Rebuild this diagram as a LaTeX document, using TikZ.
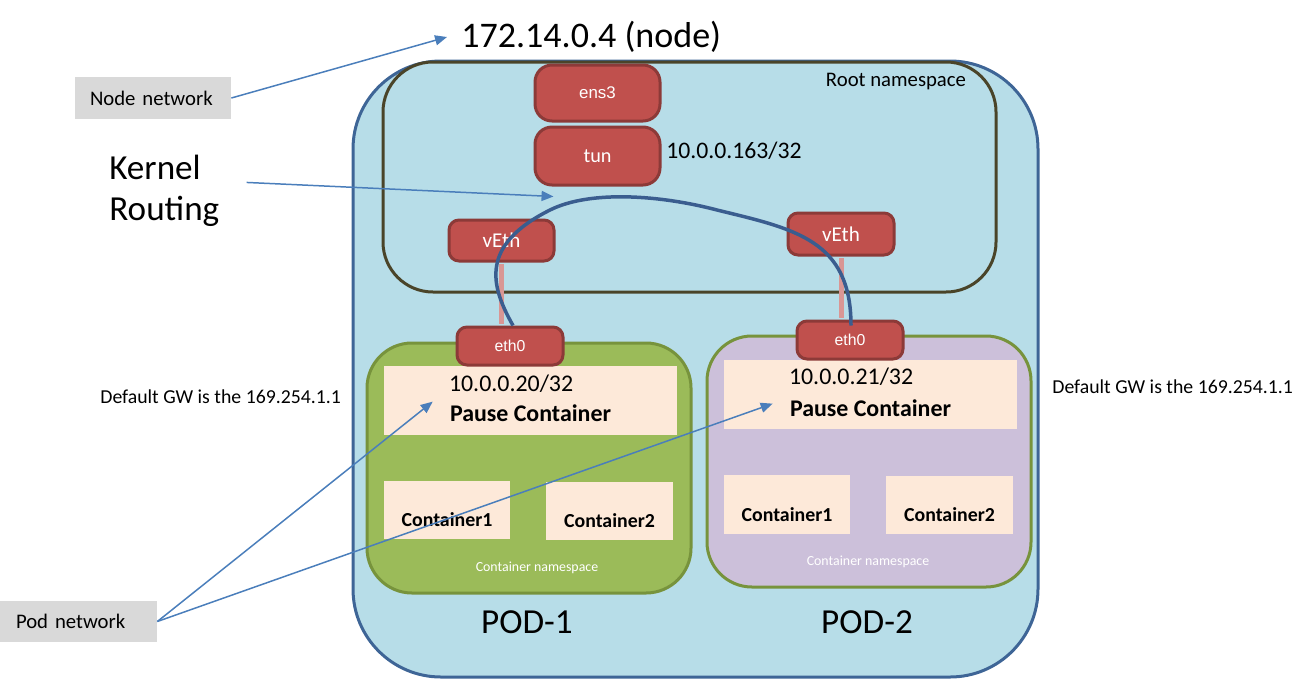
\documentclass[tikz,border=0pt]{standalone}
\usepackage{fontspec}
\setmainfont{Carlito}
\newfontfamily\ifacefont{Liberation Sans}
\usetikzlibrary{positioning,arrows.meta}
\newlength{\px}
\setlength{\px}{0.02cm}
\newcommand*{\fsz}[2]{\fontsize{#1}{#2}\selectfont}
\definecolor{nsblue}{HTML}{B7DDE8}
\definecolor{hostline}{HTML}{3E6596}
\definecolor{rootline}{HTML}{4A4429}
\definecolor{ifred}{HTML}{C0504D}
\definecolor{ifline}{HTML}{8C3A38}
\definecolor{podgreen}{HTML}{9BBB59}
\definecolor{podpurple}{HTML}{CCC0DA}
\definecolor{podline}{HTML}{77933C}
\definecolor{peach}{HTML}{FDE9D9}
\definecolor{tagbg}{HTML}{D9D9D9}
\definecolor{arrowblue}{HTML}{4A7EBB}
\definecolor{routeblue}{HTML}{3A5D8F}
\definecolor{linkpink}{HTML}{D99694}

\begin{document}
\begin{tikzpicture}[x=0.02cm,y=-0.02cm,
  iface/.style={draw=ifline,fill=ifred,line width=3\px,rounded corners=10\px,
                text=white,inner sep=0pt},
  podbox/.style={draw=podline,line width=3\px,rounded corners=45\px},
  ctbox/.style={fill=peach,inner sep=0pt},
  tag/.style={fill=tagbg,inner ysep=0pt,align=left,font=\fsz{11.8}{14}},
  plain/.style={inner sep=0pt},
  pointer/.style={arrowblue,line width=0.85pt,-{Triangle[length=6.8pt,width=5.7pt]}}]
\useasboundingbox (0,0) rectangle (1314,680);
% Host and root namespace
\node[draw=hostline,fill=nsblue,line width=3\px,rounded corners=88\px,
      minimum width=685\px,minimum height=616\px] (host) at (695.5,369) {};
\node[draw=rootline,fill=nsblue,line width=3\px,rounded corners=50\px,
      minimum width=613\px,minimum height=230\px] (root) at (689.5,177) {};
\node[plain,font=\fsz{11.8}{14}] (rootlbl) at (896,82) {Root namespace};
% Interfaces in the root namespace
\node[iface,rounded corners=17\px,minimum width=125\px,minimum height=56\px,
      font=\ifacefont\fsz{9.6}{11}] (ens3) at (597.5,93) {ens3};
\node[iface,rounded corners=17\px,minimum width=125\px,minimum height=58\px,
      font=\fsz{11.5}{13}] (tun) at (597.5,156) {tun};
\node[plain,anchor=west,font=\fsz{13.5}{16}] (tunip) at (666,151) {10.0.0.163/32};
\node[iface,minimum width=105\px,minimum height=41\px,font=\fsz{12}{14}] (vEthL) at (501.5,240.5) {vEth};
\node[iface,minimum width=106\px,minimum height=42\px,font=\fsz{12}{14}] (vEthR) at (841,234) {vEth};
% Pods
\node[podbox,fill=podgreen,minimum width=324\px,minimum height=250\px] (pod1) at (529,468) {};
\node[podbox,fill=podpurple,minimum width=324\px,minimum height=251\px] (pod2) at (869,461.5) {};
\node[ctbox,minimum width=293\px,minimum height=69\px] (pause1) at (530.5,400.5) {};
\node[ctbox,minimum width=293\px,minimum height=69\px] (pause2) at (870.5,394.5) {};
\node[plain,anchor=base west,font=\fsz{13.6}{16}] (pod1ip) at ([shift={(65\px,-26\px)}]pause1.north west) {10.0.0.20/32};
\node[plain,anchor=base west,font=\bfseries\fsz{13.6}{16}] (pause1lbl) at ([shift={(66\px,-56\px)}]pause1.north west) {Pause Container};
\node[plain,anchor=base west,font=\fsz{13.6}{16}] (pod2ip) at ([shift={(65\px,-25\px)}]pause2.north west) {10.0.0.21/32};
\node[plain,anchor=base west,font=\bfseries\fsz{13.6}{16}] (pause2lbl) at ([shift={(66\px,-57\px)}]pause2.north west) {Pause Container};
\node[ctbox,minimum width=126\px,minimum height=58\px] (c1L) at (447,510) {};
\node[ctbox,minimum width=127\px,minimum height=58\px] (c2L) at (609.5,511) {};
\node[ctbox,minimum width=126\px,minimum height=59\px] (c1R) at (787,504.5) {};
\node[ctbox,minimum width=127\px,minimum height=58\px] (c2R) at (949.5,505) {};
\foreach \ctr/\name in {c1L/Container1,c2L/Container2,c1R/Container1,c2R/Container2}
  \node[plain,anchor=base,font=\bfseries\fsz{11.3}{13}] (\ctr lbl) at ([yshift=12.5\px]\ctr.south) {\name};
\node[plain,text=white,font=\fsz{7.9}{9}] (ns1) at (537,568) {Container namespace};
\node[plain,text=white,font=\fsz{7.9}{9}] (ns2) at (868,562) {Container namespace};
\node[plain,font=\fsz{20}{24}] (pod1lbl) at (527,622) {POD-1};
\node[plain,font=\fsz{20}{24}] (pod2lbl) at (867,622) {POD-2};
\node[iface,minimum width=106\px,minimum height=38\px,font=\ifacefont\fsz{9}{10}] (eth0L) at (510,346) {eth0};
\node[iface,minimum width=106\px,minimum height=38\px,font=\ifacefont\fsz{9}{10}] (eth0R) at (850,340) {eth0};
% veth pairs and the route between them
\draw[linkpink,line width=5\px,shorten <=1.5\px,shorten >=1.5\px] (vEthL.south) -- (vEthL.south |- eth0L.north);
\draw[linkpink,line width=5\px,shorten <=1.5\px,shorten >=1.5\px] (vEthR.south) -- (vEthR.south |- eth0R.north);
\draw[routeblue,line width=3.5\px] ([xshift=3\px]eth0L.north) .. controls (490,285) and (480,245) .. (550,210)
  .. controls (590,190) and (660,195) .. (717,210)
  .. controls (795,229) and (851,240) .. ([shift={(1\px,-6\px)}]eth0R.north);
% Outside labels
\node[plain,anchor=west,font=\fsz{20.5}{24}] (nodeip) at (461,37) {172.14.0.4 (node)};
\node[tag,inner xsep=15\px,text width=126\px,minimum height=42\px] (nodenet) at (153,98) {Node network};
\node[tag,inner xsep=16\px,text width=125\px,minimum height=41\px] (podnet) at (78.5,621.5) {Pod network};
\node[plain,align=left,anchor=base west,font=\fsz{20}{23.2}] (kernel) at (109,220) {Kernel\\Routing};
\node[plain,anchor=base west,font=\fsz{11.25}{14}] (gw1) at (100,403) {Default GW is the 169.254.1.1};
\node[plain,anchor=base west,font=\fsz{11.25}{14}] (gw2) at (1052,393) {Default GW is the 169.254.1.1};
% Pointers
\draw[pointer] (nodenet.east) -- ([xshift=-14\px]nodeip.west);
\draw[pointer] ([xshift=27\px,yshift=8\px]kernel.east) -- ([shift={(-44\px,-10\px)}]tun.south);
\draw[pointer] (podnet.east) -- ([shift={(49\px,-36\px)}]pause1.north west);
\draw[pointer] (podnet.east) -- ([shift={(49\px,-44\px)}]pause2.north west);
\end{tikzpicture}
\end{document}
